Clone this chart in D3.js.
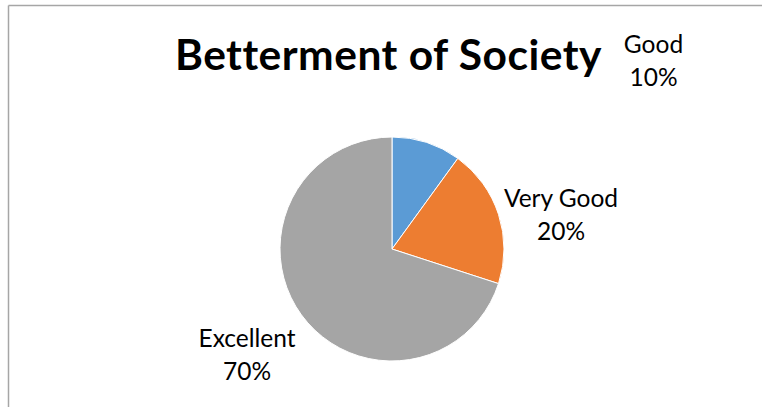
<!DOCTYPE html>
<html>
<head>
<meta charset="utf-8">
<script src="https://cdn.jsdelivr.net/npm/d3@7"></script>
<style>
  html, body { margin: 0; padding: 0; background: #fff; }
  svg { display: block; }
</style>
</head>
<body>
<svg id="chart" width="762" height="407"></svg>
<script>
const title = "Betterment of Society";
const categories = ["Good", "Very Good", "Excellent"];
const values = [10, 20, 70];
const colors = ["#5B9BD5", "#ED7D31", "#A5A5A5"];

const svg = d3.select("#chart");
const W = 762, H = 407;

// chart frame (top and left edges visible)
svg.append("line").attr("x1", 8.5).attr("y1", 5.5).attr("x2", W).attr("y2", 5.5)
  .attr("stroke", "#a6a6a6").attr("stroke-width", 1.5);
svg.append("line").attr("x1", 8.5).attr("y1", 5.5).attr("x2", 8.5).attr("y2", H)
  .attr("stroke", "#a6a6a6").attr("stroke-width", 1.5);

const font = "Lato, 'Open Sans', sans-serif";

svg.append("text")
  .attr("x", 388.5).attr("y", 70)
  .attr("text-anchor", "middle")
  .attr("font-family", font)
  .attr("font-weight", "bold")
  .attr("font-size", 42.5)
  .attr("letter-spacing", 0.5)
  .attr("fill", "#000")
  .text(title);

const cx = 392, cy = 249, r = 112;
const total = d3.sum(values);
const pie = d3.pie().sort(null).value(d => d.v);
const arcs = pie(categories.map((c, i) => ({ c, v: values[i], col: colors[i] })));
const arc = d3.arc().innerRadius(0).outerRadius(r);

const g = svg.append("g").attr("transform", `translate(${cx},${cy})`);
g.selectAll("path").data(arcs).enter().append("path")
  .attr("d", arc)
  .attr("fill", d => d.data.col)
  .attr("stroke", "#fff")
  .attr("stroke-width", 1);

// label positions (absolute, matching the reference layout)
const labelPos = [
  { x: 653.5, y: 53 },
  { x: 561, y: 207 },
  { x: 247, y: 347 }
];
const lab = svg.append("g")
  .attr("font-family", font)
  .attr("font-size", 24.5)
  .attr("fill", "#000")
  .attr("text-anchor", "middle");
arcs.forEach((d, i) => {
  const t = lab.append("text").attr("x", labelPos[i].x).attr("y", labelPos[i].y);
  t.append("tspan").attr("x", labelPos[i].x).text(d.data.c);
  t.append("tspan").attr("x", labelPos[i].x).attr("dy", 32.5)
    .text(d3.format(".0%")(d.data.v / total));
});
</script>
</body>
</html>
